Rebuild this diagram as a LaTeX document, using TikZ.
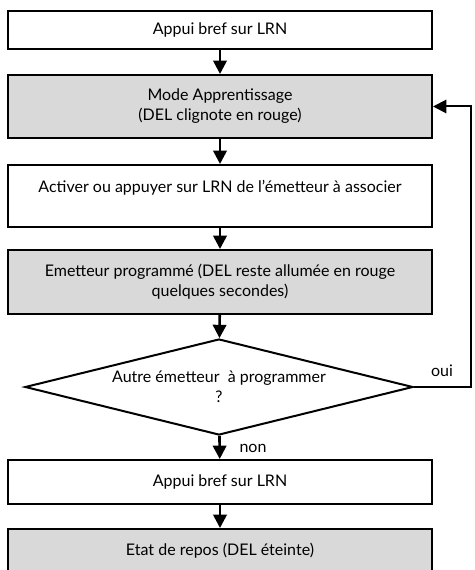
\documentclass[tikz,border=0pt]{standalone}
\usepackage{fontspec}
\setmainfont{Lato}
\usepackage{xcolor}
\usetikzlibrary{shapes.geometric,arrows.meta}
\definecolor{gris}{HTML}{D9D9D9}
\tikzset{
 etape/.style={draw, line width=1.5pt, minimum width=318pt, inner sep=0pt, align=center, font=\fontsize{12}{15}\selectfont},
 grise/.style={etape, fill=gris},
 fleche/.style={line width=2pt, -{Triangle[width=10pt,length=10pt]}},
}

\begin{document}
\begin{tikzpicture}[x=0.75pt,y=-0.75pt]
 \useasboundingbox (0,0) rectangle (474,570);
 \node[etape, minimum height=28.5pt] (appui) at (220,30) {Appui bref sur LRN};
 \node[grise, minimum height=47.25pt] (mode) at (220,106.5) {Mode Apprentissage\\(DEL clignote en rouge)};
 \node[etape, minimum height=46.5pt] (activer) at (220,196) {Activer ou appuyer sur LRN de l’émetteur à associer\\~};
 \node[grise, minimum height=48pt] (programme) at (220,282) {Emetteur programmé (DEL reste allumée en rouge\\quelques secondes)};
 \node[draw, diamond, aspect=4.04, line width=1.5pt, minimum width=291pt, minimum height=72pt, inner sep=0pt, align=center, font=\fontsize{12}{15}\selectfont] (question) at (219,387) {Autre émetteur ~à programmer\\?};
 \node[etape, minimum height=33pt] (appuifin) at (220,482) {Appui bref sur LRN};
 \node[grise, minimum height=33pt] (repos) at (220,551) {Etat de repos (DEL éteinte)};
 \draw[fleche] (appui) -- (mode);
 \draw[fleche] (mode) -- (activer);
 \draw[fleche] (activer) -- (programme);
 \draw[fleche] (programme) -- (question);
 \draw[fleche] (question) -- (appuifin);
 \draw[fleche] (appuifin) -- (repos);
 \coordinate (retour) at (471,387);
 \draw[line width=1.5pt, -{Triangle[width=10pt,length=10pt]}] (question.east) -- (retour) |- (mode.east);
 \node[font=\fontsize{12}{14}\selectfont] (oui) at (442,371) {oui};
 \node[font=\fontsize{12}{14}\selectfont] (non) at (253,448) {non};
\end{tikzpicture}
\end{document}
